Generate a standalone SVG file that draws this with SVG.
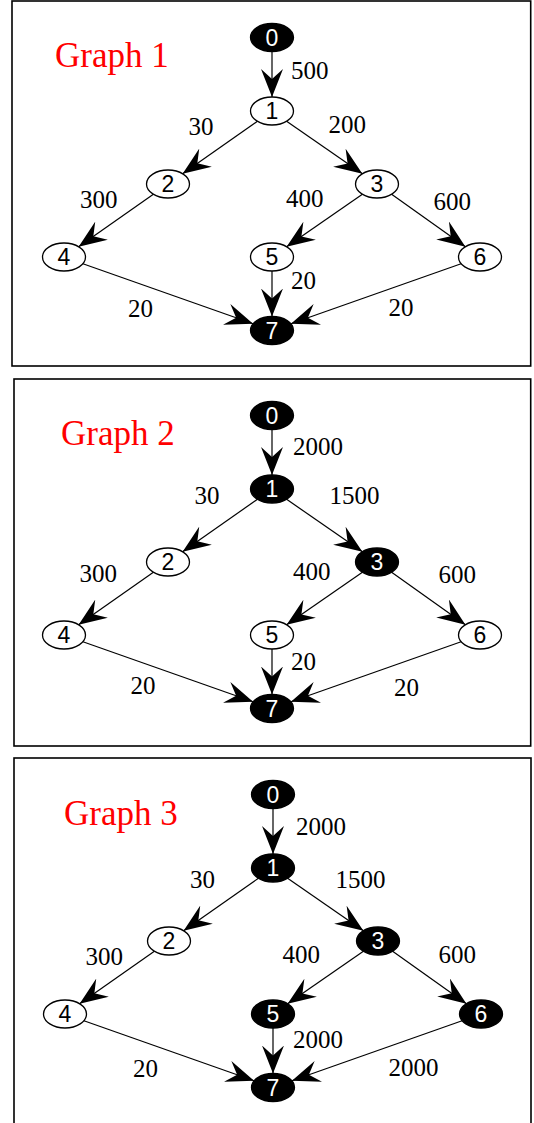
<svg xmlns="http://www.w3.org/2000/svg" width="534" height="1123" viewBox="0 0 534 1123">
<style>
.box{fill:#fff;stroke:#000;stroke-width:1.6}
.title{font-family:"Liberation Serif","Times New Roman",serif;font-size:35px;fill:#ff0000}
.lbl{font-family:"Liberation Serif","Times New Roman",serif;font-size:25px;fill:#000}
.nw ellipse{fill:#fff;stroke:#000;stroke-width:1.3}
.nb ellipse{fill:#000;stroke:#000;stroke-width:1.3}
.nw text,.nb text{font-family:"Liberation Sans",Arial,sans-serif;font-size:23px;text-anchor:middle}
.nw text{fill:#000}
.nb text{fill:#fff}
.edges line{stroke:#000;stroke-width:1.2;marker-end:url(#ah)}
</style>
<defs>
<marker id="ah" markerUnits="userSpaceOnUse" markerWidth="28" markerHeight="22" refX="28" refY="11" orient="auto" viewBox="0 0 28 22">
<path d="M28,11 L0,0 L10,11 L0,22 Z" fill="#000"/>
</marker>
</defs>
<rect x="0" y="0" width="534" height="1123" fill="#fff"/>

<!-- Graph 1 -->
<g id="graph1">
<rect class="box" x="12" y="1" width="518.7" height="365"/>
<text class="title" x="55" y="66.7">Graph 1</text>
<g transform="translate(0,1)">
<g class="edges" id="g1-edges">
<line x1="272" y1="50.5" x2="272" y2="96"/>
<line x1="257.4" y1="120.3" x2="182.6" y2="172.7"/>
<line x1="286.6" y1="120.3" x2="362.4" y2="172.7"/>
<line x1="153.4" y1="193.3" x2="78.6" y2="245.7"/>
<line x1="362.4" y1="193.3" x2="286.6" y2="245.7"/>
<line x1="391.6" y1="193.3" x2="465.4" y2="245.7"/>
<line x1="82.9" y1="262.7" x2="253.1" y2="322.8"/>
<line x1="272" y1="270" x2="272" y2="315.5"/>
<line x1="461.1" y1="262.7" x2="290.9" y2="322.8"/>
</g>
<g id="g1-n0" class="nb"><ellipse cx="272" cy="36.5" rx="21.5" ry="14"/><text x="272" y="44.8">0</text></g>
<g id="g1-n1" class="nw"><ellipse cx="272" cy="110" rx="21.5" ry="14"/><text x="272" y="118.3">1</text></g>
<g id="g1-n2" class="nw"><ellipse cx="168" cy="183" rx="21.5" ry="14"/><text x="168" y="191.3">2</text></g>
<g id="g1-n3" class="nw"><ellipse cx="377" cy="183" rx="21.5" ry="14"/><text x="377" y="191.3">3</text></g>
<g id="g1-n4" class="nw"><ellipse cx="64" cy="256" rx="21.5" ry="14"/><text x="64" y="264.3">4</text></g>
<g id="g1-n5" class="nw"><ellipse cx="272" cy="256" rx="21.5" ry="14"/><text x="272" y="264.3">5</text></g>
<g id="g1-n6" class="nw"><ellipse cx="480" cy="256" rx="21.5" ry="14"/><text x="480" y="264.3">6</text></g>
<g id="g1-n7" class="nb"><ellipse cx="272" cy="329.5" rx="21.5" ry="14"/><text x="272" y="337.8">7</text></g>
</g>
<g id="g1-labels">
<text class="lbl" x="291" y="79">500</text>
<text class="lbl" x="188.5" y="135">30</text>
<text class="lbl" x="328.5" y="133">200</text>
<text class="lbl" x="80" y="208">300</text>
<text class="lbl" x="286" y="207">400</text>
<text class="lbl" x="433.5" y="210">600</text>
<text class="lbl" x="291" y="289">20</text>
<text class="lbl" x="128" y="316.5">20</text>
<text class="lbl" x="388.5" y="316">20</text>
</g>
</g>

<!-- Graph 2 -->
<g id="graph2">
<rect class="box" x="14" y="379" width="516.7" height="367"/>
<text class="title" x="61" y="445">Graph 2</text>
<g transform="translate(0,379)">
<g class="edges" id="g2-edges">
<line x1="272" y1="50.5" x2="272" y2="96"/>
<line x1="257.4" y1="120.3" x2="182.6" y2="172.7"/>
<line x1="286.6" y1="120.3" x2="362.4" y2="172.7"/>
<line x1="153.4" y1="193.3" x2="78.6" y2="245.7"/>
<line x1="362.4" y1="193.3" x2="286.6" y2="245.7"/>
<line x1="391.6" y1="193.3" x2="465.4" y2="245.7"/>
<line x1="82.9" y1="262.7" x2="253.1" y2="322.8"/>
<line x1="272" y1="270" x2="272" y2="315.5"/>
<line x1="461.1" y1="262.7" x2="290.9" y2="322.8"/>
</g>
<g id="g2-n0" class="nb"><ellipse cx="272" cy="36.5" rx="21.5" ry="14"/><text x="272" y="44.8">0</text></g>
<g id="g2-n1" class="nb"><ellipse cx="272" cy="110" rx="21.5" ry="14"/><text x="272" y="118.3">1</text></g>
<g id="g2-n2" class="nw"><ellipse cx="168" cy="183" rx="21.5" ry="14"/><text x="168" y="191.3">2</text></g>
<g id="g2-n3" class="nb"><ellipse cx="377" cy="183" rx="21.5" ry="14"/><text x="377" y="191.3">3</text></g>
<g id="g2-n4" class="nw"><ellipse cx="64" cy="256" rx="21.5" ry="14"/><text x="64" y="264.3">4</text></g>
<g id="g2-n5" class="nw"><ellipse cx="272" cy="256" rx="21.5" ry="14"/><text x="272" y="264.3">5</text></g>
<g id="g2-n6" class="nw"><ellipse cx="480" cy="256" rx="21.5" ry="14"/><text x="480" y="264.3">6</text></g>
<g id="g2-n7" class="nb"><ellipse cx="272" cy="329.5" rx="21.5" ry="14"/><text x="272" y="337.8">7</text></g>
</g>
<g id="g2-labels">
<text class="lbl" x="293" y="455">2000</text>
<text class="lbl" x="194.5" y="504">30</text>
<text class="lbl" x="329.5" y="504">1500</text>
<text class="lbl" x="79.5" y="581.5">300</text>
<text class="lbl" x="293" y="580">400</text>
<text class="lbl" x="438.5" y="583">600</text>
<text class="lbl" x="291" y="670">20</text>
<text class="lbl" x="130.5" y="694">20</text>
<text class="lbl" x="394" y="695.5">20</text>
</g>
</g>

<!-- Graph 3 -->
<g id="graph3">
<rect class="box" x="14" y="758" width="517" height="370"/>
<text class="title" x="64" y="825">Graph 3</text>
<g transform="translate(1,758)">
<g class="edges" id="g3-edges">
<line x1="272" y1="50.5" x2="272" y2="96"/>
<line x1="257.4" y1="120.3" x2="182.6" y2="172.7"/>
<line x1="286.6" y1="120.3" x2="362.4" y2="172.7"/>
<line x1="153.4" y1="193.3" x2="78.6" y2="245.7"/>
<line x1="362.4" y1="193.3" x2="286.6" y2="245.7"/>
<line x1="391.6" y1="193.3" x2="465.4" y2="245.7"/>
<line x1="82.9" y1="262.7" x2="253.1" y2="322.8"/>
<line x1="272" y1="270" x2="272" y2="315.5"/>
<line x1="461.1" y1="262.7" x2="290.9" y2="322.8"/>
</g>
<g id="g3-n0" class="nb"><ellipse cx="272" cy="36.5" rx="21.5" ry="14"/><text x="272" y="44.8">0</text></g>
<g id="g3-n1" class="nb"><ellipse cx="272" cy="110" rx="21.5" ry="14"/><text x="272" y="118.3">1</text></g>
<g id="g3-n2" class="nw"><ellipse cx="168" cy="183" rx="21.5" ry="14"/><text x="168" y="191.3">2</text></g>
<g id="g3-n3" class="nb"><ellipse cx="377" cy="183" rx="21.5" ry="14"/><text x="377" y="191.3">3</text></g>
<g id="g3-n4" class="nw"><ellipse cx="64" cy="256" rx="21.5" ry="14"/><text x="64" y="264.3">4</text></g>
<g id="g3-n5" class="nb"><ellipse cx="272" cy="256" rx="21.5" ry="14"/><text x="272" y="264.3">5</text></g>
<g id="g3-n6" class="nb"><ellipse cx="480" cy="256" rx="21.5" ry="14"/><text x="480" y="264.3">6</text></g>
<g id="g3-n7" class="nb"><ellipse cx="272" cy="329.5" rx="21.5" ry="14"/><text x="272" y="337.8">7</text></g>
</g>
<g id="g3-labels">
<text class="lbl" x="296" y="835">2000</text>
<text class="lbl" x="190" y="888">30</text>
<text class="lbl" x="335.5" y="888">1500</text>
<text class="lbl" x="85.5" y="965">300</text>
<text class="lbl" x="282.5" y="963">400</text>
<text class="lbl" x="438.5" y="963">600</text>
<text class="lbl" x="293" y="1047.5">2000</text>
<text class="lbl" x="133" y="1076.5">20</text>
<text class="lbl" x="388.5" y="1076">2000</text>
</g>
</g>
</svg>
